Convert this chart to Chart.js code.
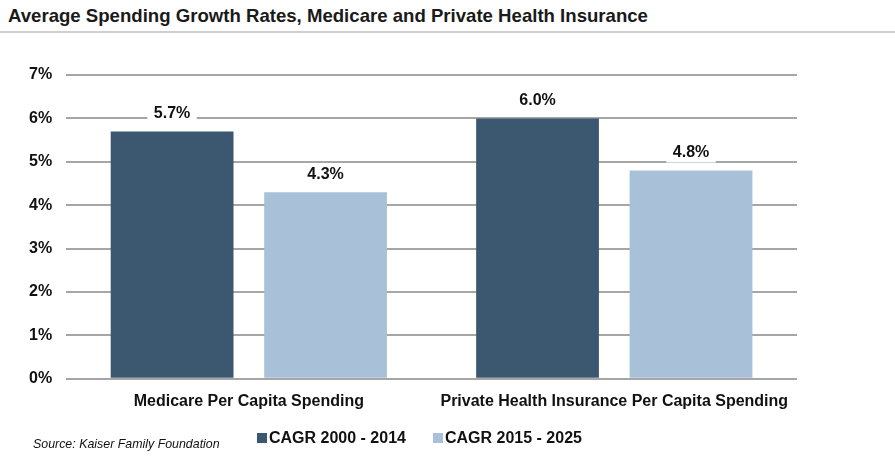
<!DOCTYPE html>
<html>
<head>
<meta charset="utf-8">
<script src="https://cdn.jsdelivr.net/npm/chart.js@4"></script>
<style>
  body { margin: 0; background: #fff; font-family: "Liberation Sans", Arial, sans-serif; }
  #wrap { position: relative; width: 895px; height: 461px; overflow: hidden; }
  #title { position: absolute; left: 8px; top: 5px; font-size: 18.6px; font-weight: bold; color: #1a1a1a; }
  #rule { position: absolute; left: 0; top: 31px; width: 895px; height: 2px; background: #cfcfcf; }
  #box { position: absolute; left: 0; top: 40px; width: 895px; height: 421px; }
  #legend { position: absolute; left: 257px; top: 429px; display: flex; font-size: 16px; font-weight: bold; color: #111; }
  #legend .item { display: flex; align-items: center; margin-right: 27px; }
  #legend .sw { width: 10px; height: 10px; margin-right: 2px; }
  #source { position: absolute; left: 33px; top: 437px; font-size: 12.4px; font-style: italic; color: #111; }
</style>
</head>
<body>
<div id="wrap">
  <div id="title">Average Spending Growth Rates, Medicare and Private Health Insurance</div>
  <div id="rule"></div>
  <div id="box"><canvas id="mainChart"></canvas></div>
  <div id="legend"></div>
  <div id="source">Source: Kaiser Family Foundation</div>
</div>
<script>
const categories = ['Medicare Per Capita Spending', 'Private Health Insurance Per Capita Spending'];
const seriesNames = ['CAGR 2000 - 2014', 'CAGR 2015 - 2025'];
const cagr2000to2014 = [5.7, 6.0];
const cagr2015to2025 = [4.3, 4.8];
const yTicks = [0, 1, 2, 3, 4, 5, 6, 7];

const colors = ['#3c5870', '#a9c1d8'];
const FONT = '"Liberation Sans", Arial, sans-serif';

// 柱顶数值标签（白底遮住网格线）
const valueLabels = {
    id: 'valueLabels',
    afterDatasetsDraw(chart) {
        const ctx = chart.ctx;
        ctx.save();
        ctx.font = 'bold 16px ' + FONT;
        ctx.textAlign = 'center';
        ctx.textBaseline = 'middle';
        chart.data.datasets.forEach((ds, i) => {
            chart.getDatasetMeta(i).data.forEach((bar, j) => {
                const text = ds.data[j].toFixed(1) + '%';
                const y = bar.y - 18;
                const w = ctx.measureText(text).width + 13;
                ctx.fillStyle = '#fff';
                ctx.fillRect(bar.x - w / 2, y - 10, w, 20);
                ctx.fillStyle = '#111';
                ctx.fillText(text, bar.x, y);
            });
        });
        ctx.restore();
    }
};

// 图例用 HTML 画，方块紧贴文字
const legendEl = document.getElementById('legend');
seriesNames.forEach((name, i) => {
    const item = document.createElement('div');
    item.className = 'item';
    item.innerHTML = `<span class="sw" style="background:${colors[i]}"></span><span>${name}</span>`;
    legendEl.appendChild(item);
});

const ctx = document.getElementById('mainChart').getContext('2d');
new Chart(ctx, {
    type: 'bar',
    data: {
        labels: categories,
        datasets: [
            { label: seriesNames[0], data: cagr2000to2014, backgroundColor: colors[0] },
            { label: seriesNames[1], data: cagr2015to2025, backgroundColor: colors[1] }
        ]
    },
    options: {
        responsive: true,
        maintainAspectRatio: false,
        animation: false,
        categoryPercentage: 0.84,
        barPercentage: 0.8,
        layout: { padding: { left: 15, right: 98, top: 35, bottom: 45 } },
        plugins: {
            legend: { display: false },
            tooltip: { enabled: false }
        },
        scales: {
            x: {
                grid: { display: false },
                border: { display: false },
                ticks: { color: '#111', padding: 5, font: { family: FONT, size: 16, weight: 'bold' } }
            },
            y: {
                min: yTicks[0],
                max: yTicks[yTicks.length - 1],
                afterBuildTicks: axis => { axis.ticks = yTicks.map(v => ({ value: v })); },
                grid: { color: '#a6a6a6', lineWidth: 2, drawTicks: false },
                border: { display: false },
                ticks: {
                    color: '#111', padding: 14,
                    font: { family: FONT, size: 16, weight: 'bold' },
                    callback: v => v + '%'
                }
            }
        }
    },
    plugins: [valueLabels]
});
</script>
</body>
</html>
